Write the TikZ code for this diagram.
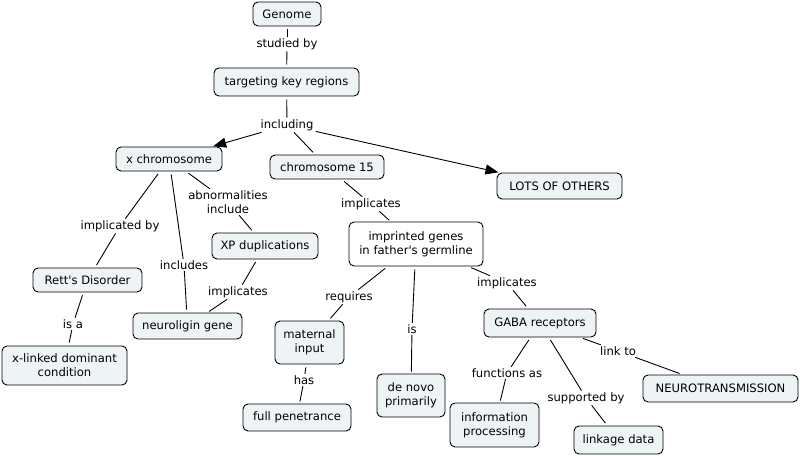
\documentclass[tikz,border=0pt]{standalone}
\usepackage{fontspec}
\setmainfont{DejaVu Sans}[Ligatures=TeXOff]
\usetikzlibrary{arrows.meta}
\definecolor{cfill}{RGB}{238,244,245}
\tikzset{
  every node/.style={font=\fontsize{11.6}{14}\selectfont, align=center},
  concept/.style={draw=black, line width=0.9pt, rounded corners=5pt, fill=cfill, inner sep=0pt},
  whiteconcept/.style={concept, fill=white},
  lab/.style={inner xsep=2pt, inner ysep=1.5pt},
  conn/.style={line width=0.9pt, black},
  arr/.style={conn, -{Triangle[length=13pt, width=10pt]}}
}
\begin{document}
\begin{tikzpicture}[x=1pt, y=-1pt]
\useasboundingbox (0,0) rectangle (800,455);
% concepts
\node[concept, minimum width=68, minimum height=24] (genome) at (287,14) {Genome};
\node[concept, minimum width=145, minimum height=28] (target) at (286.5,82) {targeting key regions};
\node[concept, minimum width=106, minimum height=24] (xchr) at (169,159) {x chromosome};
\node[concept, minimum width=114, minimum height=24] (chr15) at (327,167) {chromosome 15};
\node[concept, minimum width=125, minimum height=26] (lots) at (559.5,186) {LOTS OF OTHERS};
\node[concept, minimum width=106, minimum height=26] (xp) at (265,246) {XP duplications};
\node[concept, minimum width=109, minimum height=24] (rett) at (87.5,280) {Rett's Disorder};
\node[concept, minimum width=125, minimum height=39] (xlinked) at (64.5,365.5) {x-linked dominant\\condition};
\node[concept, minimum width=109, minimum height=26] (neuro) at (187.5,326) {neuroligin gene};
\node[whiteconcept, minimum width=134, minimum height=44] (imprint) at (416,244) {imprinted genes\\in father's germline};
\node[concept, minimum width=69, minimum height=43] (maternal) at (309.5,342.5) {maternal\\input};
\node[concept, minimum width=108, minimum height=27] (full) at (297,417.5) {full penetrance};
\node[concept, minimum width=68, minimum height=43] (denovo) at (411,395.5) {de novo\\primarily};
\node[concept, minimum width=112, minimum height=28] (gaba) at (540,323) {GABA receptors};
\node[concept, minimum width=89, minimum height=44] (info) at (494.5,425) {information\\processing};
\node[concept, minimum width=89, minimum height=28] (linkage) at (618.5,440) {linkage data};
\node[concept, minimum width=155, minimum height=27] (nt) at (720.5,388.5) {NEUROTRANSMISSION};
% labels
\node[lab] (lstudied) at (287,44) {studied by};
\node[lab] (lincl) at (287,125) {including};
\node[lab] (labn) at (228,202) {abnormalities\\include};
\node[lab] (limpby) at (120,226) {implicated by};
\node[lab] (lisa) at (73,324) {is a};
\node[lab] (lincludes) at (184,265) {includes};
\node[lab] (limpxp) at (238,292) {implicates};
\node[lab] (limp15) at (371,204) {implicates};
\node[lab] (lreq) at (349,297) {requires};
\node[lab] (lhas) at (304,380) {has};
\node[lab] (lis) at (412,329) {is};
\node[lab] (limpg) at (507,283) {implicates};
\node[lab] (lfunc) at (507,373) {functions as};
\node[lab] (lsupp) at (586,398) {supported by};
\node[lab] (llink) at (618,351) {link to};
% connectors
\draw[conn, shorten <=3pt] (genome) -- (lstudied);
\draw[conn, shorten >=3pt] (lstudied) -- (target);
\draw[conn, shorten <=3pt] (target) -- (lincl);
\draw[arr, shorten >=1pt] (lincl) -- (xchr);
\draw[conn, shorten >=3pt] (lincl) -- (chr15);
\draw[arr, shorten >=1pt] (lincl) -- (lots);
\draw[conn, shorten <=3pt] (xchr) -- (labn);
\draw[conn, shorten >=3pt] (labn) -- (xp);
\draw[conn, shorten <=3pt] (xchr) -- (limpby);
\draw[conn, shorten >=3pt] (limpby) -- (rett);
\draw[conn, shorten <=3pt] (rett) -- (lisa);
\draw[conn, shorten >=3pt] (lisa) -- (xlinked);
\draw[conn, shorten <=3pt] (xchr) -- (lincludes);
\draw[conn, shorten >=3pt] (lincludes) -- (neuro);
\draw[conn, shorten <=3pt] (xp) -- (limpxp);
\draw[conn, shorten >=2pt] (limpxp) -- (neuro);
\draw[conn, shorten <=3pt] (chr15) -- (limp15);
\draw[conn, shorten >=2pt] (limp15) -- (imprint);
\draw[conn, shorten <=3pt] (imprint) -- (lreq);
\draw[conn, shorten >=3pt] (lreq) -- (maternal);
\draw[conn, shorten <=3pt] (maternal) -- (lhas);
\draw[conn, shorten >=2pt] (lhas) -- (full);
\draw[conn, shorten <=3pt] (imprint) -- (lis);
\draw[conn, shorten >=2pt] (lis) -- (denovo);
\draw[conn, shorten <=3pt] (imprint) -- (limpg);
\draw[conn, shorten >=3pt] (limpg) -- (gaba);
\draw[conn, shorten <=3pt] (gaba) -- (lfunc);
\draw[conn, shorten >=2pt] (lfunc) -- (info);
\draw[conn, shorten <=3pt] (gaba) -- (lsupp);
\draw[conn, shorten >=3pt] (lsupp) -- (linkage);
\draw[conn, shorten <=3pt] (gaba) -- (llink);
\draw[conn, shorten >=3pt] (llink) -- (nt);
\end{tikzpicture}
\end{document}
